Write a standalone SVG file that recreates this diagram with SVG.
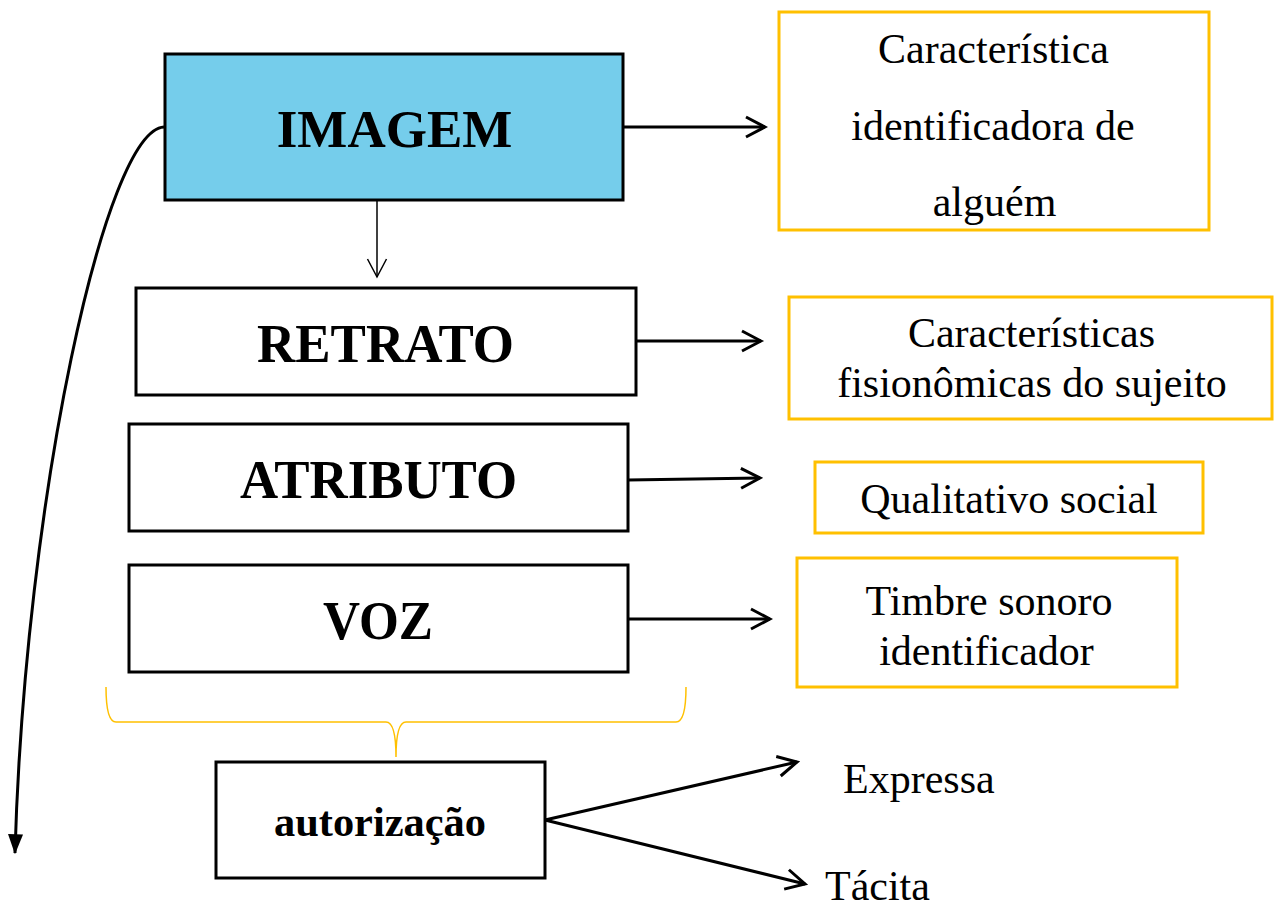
<svg xmlns="http://www.w3.org/2000/svg" width="1274" height="907" viewBox="0 0 1274 907">
<defs>
<style>
.box{fill:#fff;stroke:#000;stroke-width:3}
.blue{fill:#75CDEB;stroke:#000;stroke-width:3}
.obox{fill:#fff;stroke:#FFC000;stroke-width:3}
.b{font-family:"Liberation Serif","Times New Roman",serif;font-weight:bold;fill:#000;text-anchor:middle}
.r{font-family:"Liberation Serif","Times New Roman",serif;font-size:42px;fill:#000;text-anchor:middle}
.ln{fill:none;stroke:#000;stroke-width:3}
</style>
<marker id="open" markerUnits="userSpaceOnUse" markerWidth="24" markerHeight="24" viewBox="-2 -2 24 24" refX="19" refY="10" orient="auto">
<path d="M0,0 L19,10 L0,20" fill="none" stroke="#000" stroke-width="3"/>
</marker>
<marker id="thin" markerUnits="userSpaceOnUse" markerWidth="24" markerHeight="24" viewBox="-2 -2 24 24" refX="18" refY="9.5" orient="auto">
<path d="M0,0 L18,9.5 L0,19" fill="none" stroke="#000" stroke-width="1.5"/>
</marker>
<marker id="solid" markerUnits="userSpaceOnUse" markerWidth="20" markerHeight="20" viewBox="0 0 16 12" refX="15" refY="6" orient="auto">
<path d="M0,0 L16,6 L0,12 z" fill="#000"/>
</marker>
</defs>
<rect width="1274" height="907" fill="#fff"/>

<g id="connectors">
<path class="ln" d="M164,127 C105,130 25,500 15,853" marker-end="url(#solid)"/>
<line x1="623" y1="127" x2="765" y2="127" class="ln" marker-end="url(#open)"/>
<line x1="377" y1="200" x2="377" y2="277" fill="none" stroke="#000" stroke-width="1.5" marker-end="url(#thin)"/>
<line x1="636" y1="341" x2="761" y2="341" class="ln" marker-end="url(#open)"/>
<line x1="628" y1="480" x2="760" y2="478" class="ln" marker-end="url(#open)"/>
<line x1="628" y1="619" x2="770" y2="619" class="ln" marker-end="url(#open)"/>
<line x1="545" y1="820" x2="797" y2="762" class="ln" marker-end="url(#open)"/>
<line x1="545" y1="820" x2="805" y2="884" class="ln" marker-end="url(#open)"/>
<path d="M106,687 Q106,722 116,722 L386,722 Q396,722 396,757 Q396,722 406,722 L676,722 Q686,722 686,687" fill="none" stroke="#FFC000" stroke-width="1.5"/>
</g>

<g id="imagem">
<rect x="165" y="54" width="458" height="146" class="blue"/>
<text x="394.5" y="147" class="b" font-size="53">IMAGEM</text>
</g>
<g id="retrato">
<rect x="136" y="288" width="500" height="107" class="box"/>
<text x="385.5" y="362" class="b" font-size="55" textLength="257" lengthAdjust="spacingAndGlyphs">RETRATO</text>
</g>
<g id="atributo">
<rect x="129" y="424" width="499" height="107" class="box"/>
<text x="378.5" y="498" class="b" font-size="55" textLength="277" lengthAdjust="spacingAndGlyphs">ATRIBUTO</text>
</g>
<g id="voz">
<rect x="129" y="565" width="499" height="107" class="box"/>
<text x="378" y="639" class="b" font-size="55" textLength="110" lengthAdjust="spacingAndGlyphs">VOZ</text>
</g>
<g id="autorizacao">
<rect x="216" y="762" width="329" height="116" class="box"/>
<text x="380" y="836" class="b" font-size="42" textLength="212" lengthAdjust="spacingAndGlyphs">autorização</text>
</g>

<g id="caracteristica">
<rect x="779" y="12" width="430" height="218" class="obox"/>
<text x="993.5" y="63" class="r" font-size="43">Característica</text>
<text x="993" y="140" class="r" font-size="43">identificadora de</text>
<text x="994.5" y="216" class="r" font-size="43">alguém</text>
</g>
<g id="caracteristicas">
<rect x="789" y="297" width="483" height="122" class="obox"/>
<text x="1031.5" y="347" class="r" font-size="40">Características</text>
<text x="1032" y="397" class="r" font-size="43">fisionômicas do sujeito</text>
</g>
<g id="qualitativo">
<rect x="815" y="462" width="388" height="71" class="obox"/>
<text x="1009" y="513" class="r">Qualitativo social</text>
</g>
<g id="timbre">
<rect x="797" y="558" width="380" height="129" class="obox"/>
<text x="989" y="615" class="r">Timbre sonoro</text>
<text x="986.5" y="665" class="r">identificador</text>
</g>
<g id="expressa">
<text x="843" y="793" font-family="Liberation Serif, Times New Roman, serif" font-size="42">Expressa</text>
</g>
<g id="tacita">
<text x="825" y="900" font-family="Liberation Serif, Times New Roman, serif" font-size="42">Tácita</text>
</g>
</svg>
